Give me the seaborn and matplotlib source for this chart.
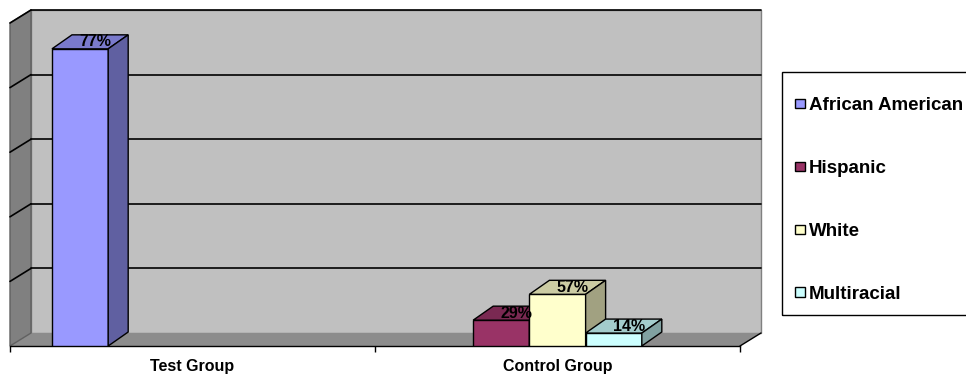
import numpy as np
import pandas as pd
import matplotlib
matplotlib.use("Agg")
import matplotlib.pyplot as plt
from matplotlib.patches import Polygon, Rectangle, Patch
from matplotlib.colors import to_rgb
import seaborn as sns

# Participants by group and race/ethnicity
groups = ["Test Group", "Control Group"]
races = ["African American", "Hispanic", "White", "Multiracial"]
bar_group = ["Test Group", "Control Group", "Control Group", "Control Group"]
bar_race = ["African American", "Hispanic", "White", "Multiracial"]
bar_count = [23, 2, 4, 1]
group_size = {"Test Group": 30, "Control Group": 7}
colors = ["#9999FF", "#993366", "#FFFFCC", "#CCFFFF"]
y_max = 25
y_step = 5

sns.set_theme(style="white")
plt.rcParams["font.family"] = ["Liberation Sans", "DejaVu Sans"]
plt.rcParams["text.color"] = "black"

W, H = 966, 374
fig = plt.figure(figsize=(W / 100, H / 100), dpi=100)
ax = fig.add_axes([10 / W, 28 / H, 730 / W, 323 / H])

df = pd.DataFrame({"group": bar_group, "race": bar_race, "count": bar_count})
sns.barplot(data=df, x="group", y="count", hue="race", order=groups,
            hue_order=races, palette=colors, width=0.616, saturation=1,
            edgecolor="black", linewidth=1, errorbar=None, legend=False,
            ax=ax, zorder=3)
bars = [p for p in ax.patches if np.isfinite(p.get_height()) and p.get_height() > 0]
bars.sort(key=lambda p: p.get_x())

# bars sit slightly left of the category centre in the 3-D frame
x_shift = 0.077
ax.set_xlim(-0.5 + x_shift, 1.5 + x_shift)
ax.set_ylim(0, y_max)
ax.patch.set_visible(False)
for side in ["left", "right", "top"]:
    ax.spines[side].set_visible(False)
ax.spines["bottom"].set_color("black")
ax.spines["bottom"].set_linewidth(1)
ax.set_xlabel("")
ax.set_ylabel("")
ax.set_yticks([])


def offset(pts, dx, dy):
    px = ax.transData.transform(np.asarray(pts, float)) + np.array([dx, dy])
    return ax.transData.inverted().transform(px)


def shade(c, f):
    r, g, b = to_rgb(c)
    return (r * f, g * f, b * f)


WALL = (21, 13)
BAR = (20, 14)
x0, x1 = ax.get_xlim()

# back wall, floor and left wall
back = offset([(x0, 0), (x1, 0), (x1, y_max), (x0, y_max)], *WALL)
ax.add_patch(Polygon(back, closed=True, fc="#c0c0c0", ec="#808080", lw=1,
                     zorder=0, clip_on=False))
floor = np.vstack([[(x0, 0), (x1, 0)], offset([(x1, 0), (x0, 0)], *WALL)])
ax.add_patch(Polygon(floor, closed=True, fc="#8c8c8c", ec="none",
                     zorder=0.5, clip_on=False))
wall = np.vstack([[(x0, 0), (x0, y_max)], offset([(x0, y_max), (x0, 0)], *WALL)])
ax.add_patch(Polygon(wall, closed=True, fc="#808080", ec="#606060", lw=1,
                     zorder=0.5, clip_on=False))

# gridlines across the back wall and down the side wall
for v in np.arange(y_step, y_max + 1, y_step):
    seg = offset([(x0, v), (x1, v)], *WALL)
    ax.plot(seg[:, 0], seg[:, 1], color="black", lw=1.2, zorder=1, clip_on=False)
    s2 = np.vstack([[(x0, v)], offset([(x0, v)], *WALL)])
    ax.plot(s2[:, 0], s2[:, 1], color="black", lw=1.2, zorder=1, clip_on=False)

# right edge of the floor
fe = np.vstack([[(x1, 0)], offset([(x1, 0)], *WALL)])
ax.plot(fe[:, 0], fe[:, 1], color="black", lw=1, zorder=1, clip_on=False)

# 3-D tops and sides of the columns, with value labels
for i, p in enumerate(bars):
    xl = p.get_x()
    xr = xl + p.get_width()
    h = p.get_height()
    fc = p.get_facecolor()
    z = 3 + i * 0.1
    p.set_zorder(z)
    top = np.vstack([[(xl, h), (xr, h)], offset([(xr, h), (xl, h)], *BAR)])
    sidef = np.vstack([[(xr, 0), (xr, h)], offset([(xr, h), (xr, 0)], *BAR)])
    ax.add_patch(Polygon(top, closed=True, fc=shade(fc, 0.8), ec="black",
                         lw=1, zorder=z, clip_on=False))
    ax.add_patch(Polygon(sidef, closed=True, fc=shade(fc, 0.63), ec="black",
                         lw=1, zorder=z, clip_on=False))
    grp = groups[int(round(xl + p.get_width() / 2))]
    pct = round(100 * h / group_size[grp])
    lx, ly = offset([((xl + xr) / 2, h)], 15, 7)[0]
    ax.text(lx, ly, f"{pct}%", ha="center", va="center", fontsize=11.5,
            fontweight="bold", color="black", zorder=10, clip_on=False)

# category labels and boundary ticks on the floor edge
ax.set_xticks([0 + x_shift, 1 + x_shift], groups)
ax.set_xticks([x0, x0 + 1, x1], minor=True)
ax.tick_params(axis="x", which="major", length=0, pad=9, labelsize=11.5,
               bottom=False, labelcolor="black")
ax.tick_params(axis="x", which="minor", length=4, width=1, color="black",
               direction="out", bottom=True)
for t in ax.get_xticklabels():
    t.set_fontweight("bold")

# legend
handles = [Patch(facecolor=c, edgecolor="black", linewidth=1) for c in colors]
fig.legend(handles, races, loc="center left",
           bbox_to_anchor=(795 / W, 1 - 200 / H), frameon=False,
           prop=dict(weight="bold", size=13.5), labelcolor="black",
           handlelength=0.55, handleheight=0.4, handletextpad=0.2,
           labelspacing=2.45, borderpad=0, borderaxespad=0)
fig.add_artist(Rectangle((782 / W, 1 - 315 / H), (975 - 782) / W, (315 - 72) / H,
                         transform=fig.transFigure, fill=False, ec="black", lw=1))

fig.savefig("out.png", dpi=100, facecolor="white")
